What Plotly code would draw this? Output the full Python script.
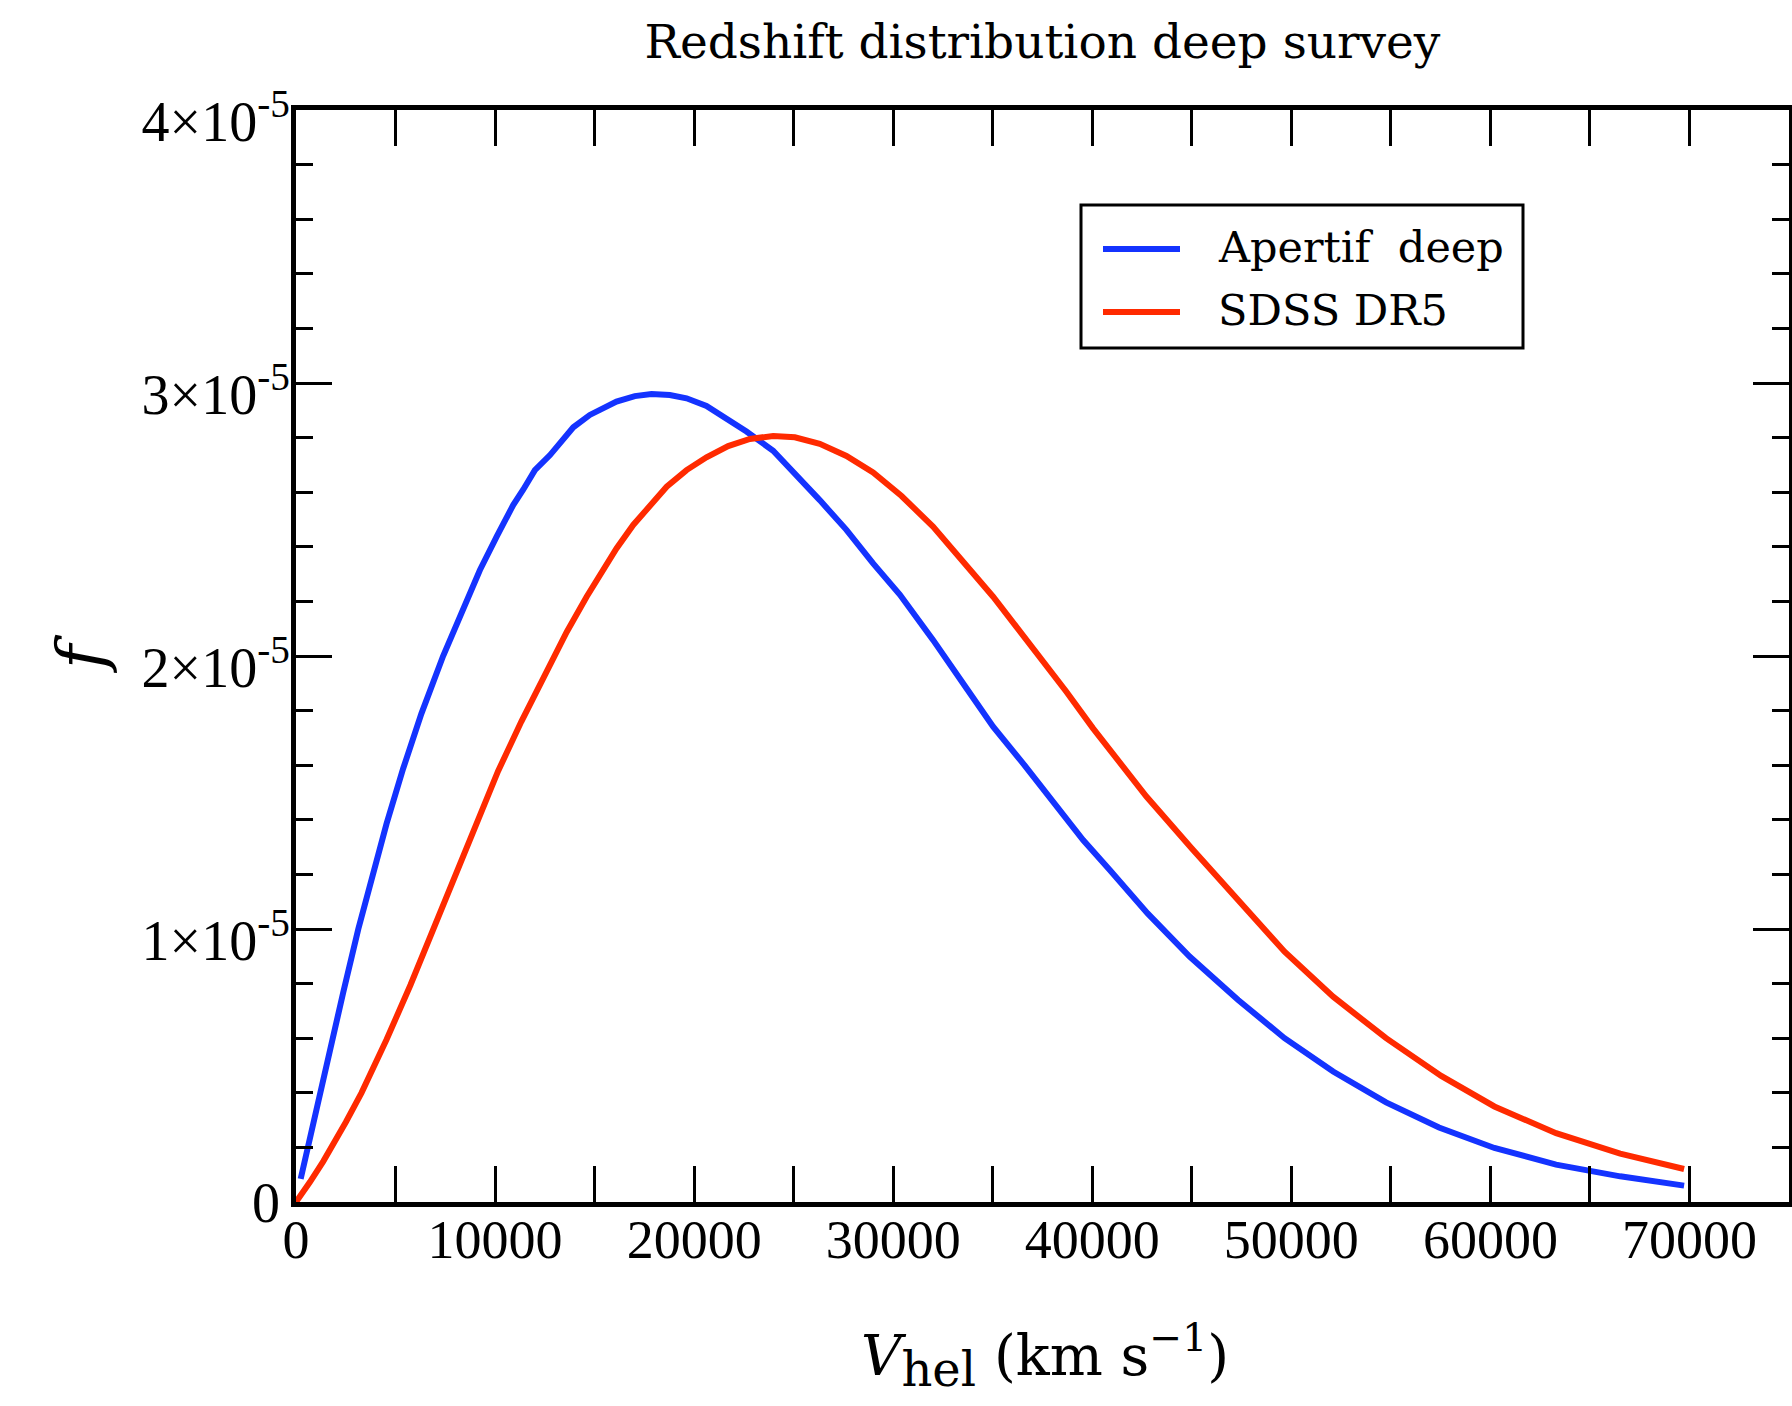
import numpy as np
import plotly.graph_objects as go

# Heliocentric velocity samples (km/s) and normalised redshift distributions (units of 1e-5)
v_apertif = [235, 1200, 1790, 2370, 3130, 3800, 4550, 5380, 6300, 7390, 8300,
             9240, 10080, 10910, 11420, 12000, 12760, 13260, 13930, 14760, 16100,
             17020, 17860, 18780, 19620, 20620, 21630, 22630, 23970, 25140, 26310,
             27650, 28990, 30330, 32000, 33680, 35020, 36520, 38030, 39540, 40880,
             42780, 44890, 47330, 49660, 52100, 54760, 57420, 60200, 63300, 66520,
             69730]
f_apertif_e5 = [0.085, 0.40, 0.586, 0.767, 1.00, 1.19, 1.386, 1.587, 1.789, 2.00, 2.159,
                2.315, 2.437, 2.553, 2.61, 2.681, 2.736, 2.781, 2.838, 2.883, 2.932,
                2.952, 2.960, 2.956, 2.944, 2.916, 2.871, 2.822, 2.752, 2.663, 2.571,
                2.462, 2.339, 2.225, 2.059, 1.882, 1.741, 1.607, 1.466, 1.326, 1.216,
                1.057, 0.899, 0.740, 0.600, 0.478, 0.365, 0.273, 0.198, 0.137, 0.094,
                0.060]

v_sdss = [0, 200, 700, 1370, 1790, 2500, 3290, 4550, 5750, 6890, 8010, 9100, 10150,
          11320, 12700, 13600, 14600, 16100, 16940, 17780, 18620, 19620, 20620, 21710,
          22800, 23970, 25060, 26310, 27650, 28990, 30420, 32000, 33510, 35020, 36190,
          37360, 38700, 40040, 41380, 42720, 45000, 47220, 49660, 52100, 54760, 57530,
          60200, 63300, 66520, 69730]
f_sdss_e5 = [0.0, 0.020, 0.073, 0.149, 0.20, 0.292, 0.40, 0.595, 0.795, 1.00, 1.205, 1.40,
             1.578, 1.76, 1.965, 2.088, 2.217, 2.394, 2.48, 2.553, 2.62, 2.681, 2.728,
             2.769, 2.795, 2.806, 2.801, 2.777, 2.733, 2.672, 2.586, 2.474, 2.345, 2.217,
             2.107, 1.997, 1.869, 1.735, 1.607, 1.485, 1.295, 1.112, 0.917, 0.752, 0.600,
             0.462, 0.350, 0.252, 0.177, 0.121]

series_names = ["Apertif  deep", "SDSS DR5"]
series_colors = ["#1433ff", "#ff2a00"]

x_tickvals = [0, 10000, 20000, 30000, 40000, 50000, 60000, 70000]
x_ticktext = [str(v) for v in x_tickvals]
y_tickvals = [0, 1e-5, 2e-5, 3e-5, 4e-5]
y_ticktext = ["0", "1×10<sup>-5</sup>", "2×10<sup>-5</sup>", "3×10<sup>-5</sup>", "4×10<sup>-5</sup>"]

W, H = 1792, 1406
L, R, T, B = 296, 3, 110, 204
PW, PH = W - L - R, H - T - B


def px(x):
    return (x - L) / PW


def py(y):
    return (H - B - y) / PH


TEXT_FONT = "DejaVu Serif"
TICK_FONT = "Liberation Serif"
Y_RANGE = [0, 4e-5]

fig = go.Figure()
fig.add_trace(go.Scatter(x=v_apertif, y=np.array(f_apertif_e5) * 1e-5, mode="lines",
                         name=series_names[0], line=dict(color=series_colors[0], width=6),
                         showlegend=False))
fig.add_trace(go.Scatter(x=v_sdss, y=np.array(f_sdss_e5) * 1e-5, mode="lines",
                         name=series_names[1], line=dict(color=series_colors[1], width=6),
                         showlegend=False))
# empty trace that binds the overlay axis carrying the plain "0" label
fig.add_trace(go.Scatter(x=[], y=[], yaxis="y2", showlegend=False, hoverinfo="skip"))

axis_common = dict(
    ticks="inside", ticklen=36, tickwidth=2.5, tickcolor="black",
    showline=True, linewidth=5, linecolor="black", mirror="allticks",
    showgrid=False, zeroline=False,
)

fig.update_xaxes(range=[0, 75000], tickmode="array", tickvals=x_tickvals, ticktext=x_ticktext,
                 minor=dict(dtick=5000, tick0=0, ticks="inside", ticklen=17, tickwidth=2.5,
                            tickcolor="black", showgrid=False),
                 tickfont=dict(family=TICK_FONT, size=54, color="black"),
                 ticklabelstandoff=-14, **axis_common)

# scientific labels sit with their exponent above the tick: shift them down a little
fig.update_yaxes(range=Y_RANGE, tickmode="array", tickvals=y_tickvals,
                 ticktext=["" if t == "0" else t for t in y_ticktext],
                 minor=dict(dtick=2e-6, tick0=0, ticks="inside", ticklen=17, tickwidth=2.5,
                            tickcolor="black", showgrid=False),
                 tickfont=dict(family=TICK_FONT, size=56, color="black"),
                 ticklabelstandoff=-10, ticklabelshift=11, **axis_common)

fig.update_layout(yaxis2=dict(
    overlaying="y", side="left", anchor="x", range=Y_RANGE, tickmode="array",
    tickvals=[y_tickvals[0]], ticktext=[y_ticktext[0]], ticks="", showline=False,
    showgrid=False, zeroline=False, ticklabelstandoff=15,
    tickfont=dict(family=TICK_FONT, size=56, color="black"),
))

# legend box drawn in plot-relative coordinates
shapes = [
    dict(type="rect", xref="paper", yref="paper", x0=px(1081), x1=px(1523), y0=py(348), y1=py(205),
         line=dict(color="black", width=3), fillcolor="white", layer="above"),
]
annotations = []
for name, color, ly in zip(series_names, series_colors, [249, 312]):
    shapes.append(dict(type="line", xref="paper", yref="paper", x0=px(1103), x1=px(1180),
                       y0=py(ly), y1=py(ly), line=dict(color=color, width=6), layer="above"))
    annotations.append(dict(text=name.replace("  ", "\u00a0\u00a0"), xref="paper", yref="paper",
                            x=px(1216), y=py(ly - 2), xanchor="left", yanchor="middle",
                            showarrow=False, font=dict(family=TEXT_FONT, size=43, color="black")))

annotations.append(dict(
    text="<i>V</i><sub><span style='font-size:48px'>hel</span></sub> (km s<sup>−1</sup>)",
    xref="paper", yref="paper", x=px(1045), y=py(1356), xanchor="center", yanchor="middle",
    showarrow=False, font=dict(family=TEXT_FONT, size=56, color="black")))
annotations.append(dict(text="<i>f</i>", xref="paper", yref="paper", x=px(80), y=py(654),
                        xanchor="center", yanchor="middle", textangle=-90, showarrow=False,
                        font=dict(family=TEXT_FONT, size=66, color="black")))

fig.update_layout(
    width=W, height=H,
    margin=dict(l=L, r=R, t=T, b=B, autoexpand=False),
    paper_bgcolor="white", plot_bgcolor="white",
    title=dict(text="Redshift distribution deep survey", x=0.5, xref="paper",
               y=1 - 42 / H, yref="container", xanchor="center", yanchor="middle",
               font=dict(family=TEXT_FONT, size=47, color="black")),
    shapes=shapes, annotations=annotations,
    showlegend=False,
)

fig.write_html("out.html")
